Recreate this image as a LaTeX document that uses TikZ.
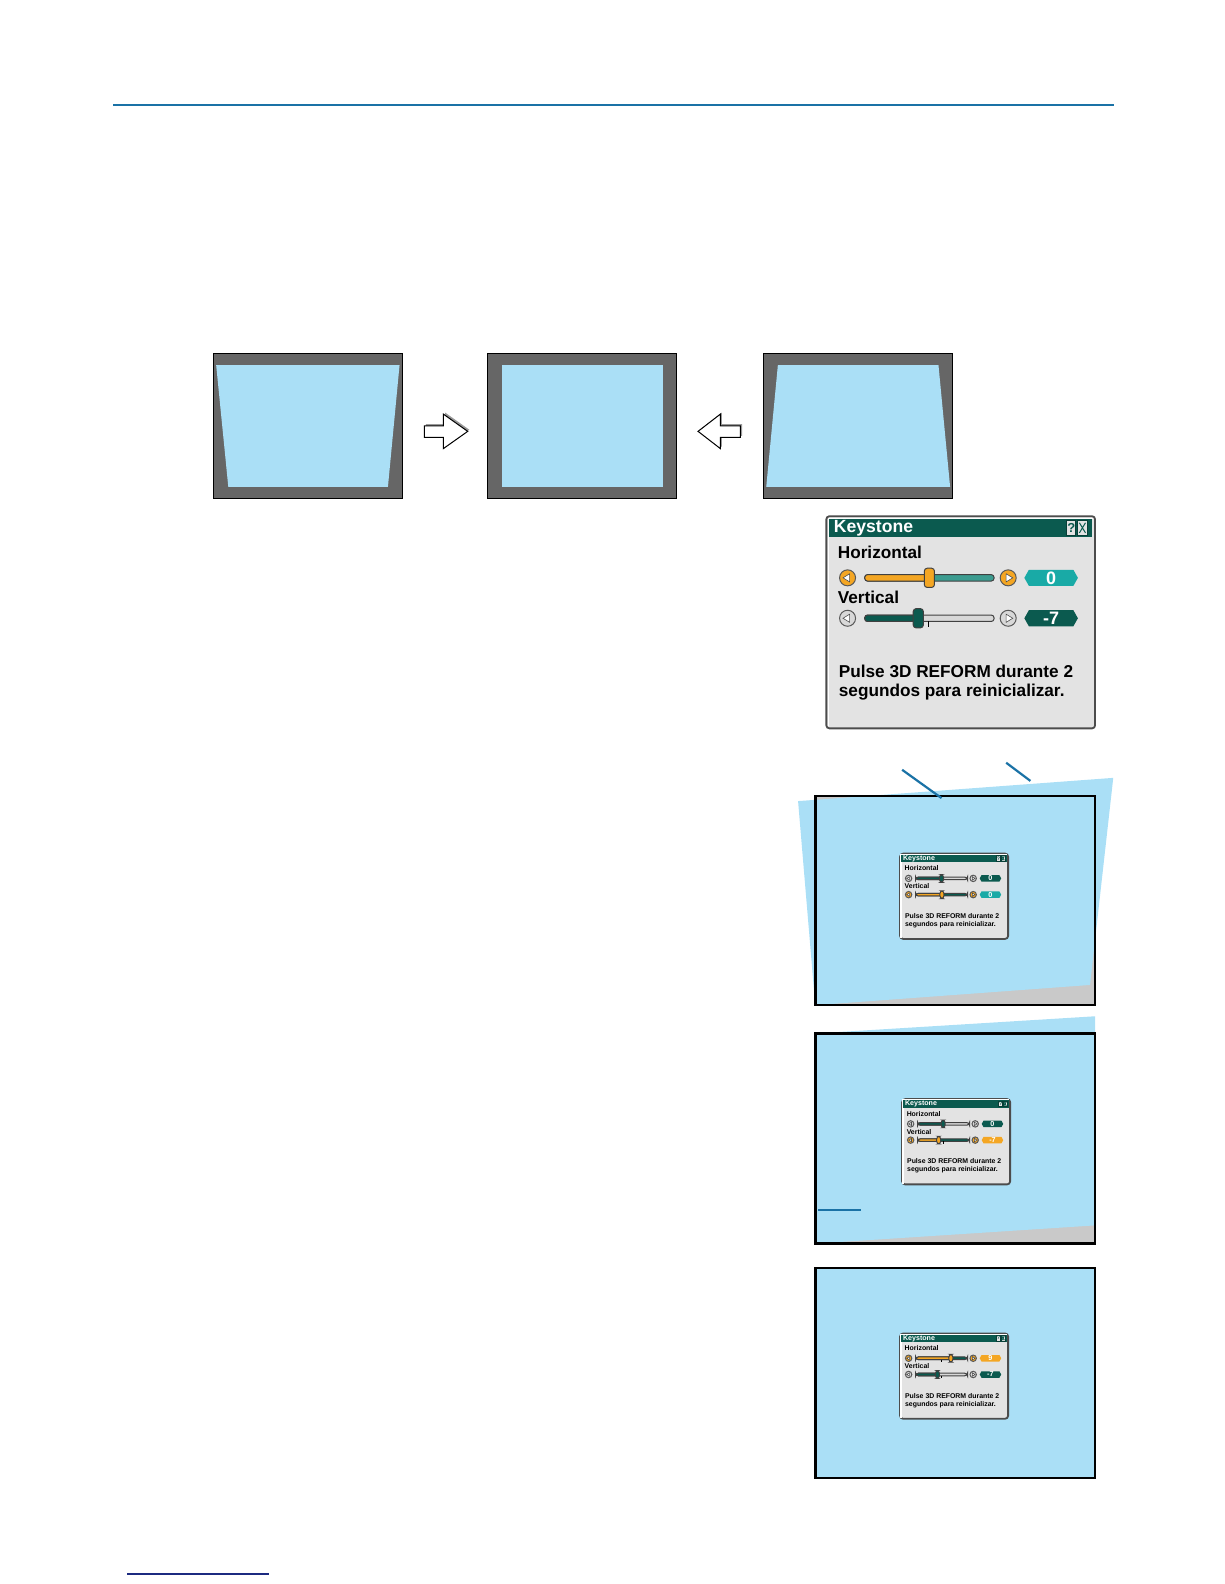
\documentclass[tikz,border=0pt]{standalone}
\usepackage{fontspec}
\setmainfont{Liberation Sans}
\usepackage{tikz}
\usetikzlibrary{calc}

\definecolor{pageblue}{HTML}{1A72A6}
\definecolor{footblue}{HTML}{1C2A80}
\definecolor{scrgray}{HTML}{666666}
\definecolor{skyblue}{HTML}{AADFF6}
\definecolor{wallgray}{HTML}{C9C9C9}
\definecolor{darkteal}{HTML}{0B5A4F}
\definecolor{lightteal}{HTML}{19AAA6}
\definecolor{midteal}{HTML}{3C9C90}
\definecolor{ksorange}{HTML}{F4A623}
\definecolor{dlgbg}{HTML}{E3E3E3}
\definecolor{trackgray}{HTML}{D8D8D8}

% Keystone dialog frame, title and texts (local units, 266 x 210)
\newcommand{\ksdialog}{%
  \draw[dlgframe] (0,0) rectangle (266,210);
  \draw[white, line width=0.6pt] (2,208) -- (2,2) -- (264,2);
  \fill[darkteal] (3,3) rectangle (263,21);
  \node (title) [titletext, anchor=base west] at (7,16.5) {Keystone};
  \draw[iconbox] (238,4.5) rectangle (247,18.5);
  \node (help) [icontext] at (242.5,11.5) {?};
  \draw[iconbox] (248.5,4.5) rectangle (258.5,18.5);
  \draw[darkteal, line width=0.5pt] (250.5,6.5) -- (256.5,16.5) (250.5,16.5) -- (256.5,6.5);
  \node (hlabel) [dlgtext, anchor=base west] at (11,42) {Horizontal};
  \node (vlabel) [dlgtext, anchor=base west] at (11,86) {Vertical};
  \node (msg) [dlgtext, anchor=north west, align=left] at (12,147) {Pulse 3D REFORM durante 2\\segundos para reinicializar.};
}

% one slider row: #1 row y, #2 thumb x, #3 left track, #4 right track,
% #5 buttons, #6 value box, #7 value, #8 value colour, #9 node name
\newcommand{\ksslider}[9]{%
  \draw[btn, fill=#5] (21,#1) circle (4pt);
  \draw[btnarrow] (16.5,#1) -- (23,#1-4) -- (23,#1+4) -- cycle;
  \draw[btn, fill=#5] (180,#1) circle (4pt);
  \draw[btnarrow] (184.5,#1) -- (178,#1-4) -- (178,#1+4) -- cycle;
  \draw[track, fill=#4] (38,#1-3.2) rectangle (166,#1+3.2);
  \draw[track, fill=#3] (38,#1-3.2) rectangle (#2,#1+3.2);
  \draw[line width=0.4pt] (101,#1+3.2) -- (101,#1+9);
  \draw[track, fill=#3] (#2-5,#1-9.5) rectangle (#2+5,#1+9.5);
  \fill[#6] (196,#1) -- (200.5,#1-8) -- (244.5,#1-8) -- (249,#1) -- (244.5,#1+8) -- (200.5,#1+8) -- cycle;
  \node (#9) [valtext, text=#8] at (222.5,#1) {#7};
}

\begin{document}
\begin{tikzpicture}[x=0.505pt, y=-0.505pt]
    % Styles
    \tikzstyle{screen} = [draw=black, line width=0.5pt, fill=scrgray]
    \tikzstyle{picture} = [fill=skyblue]
    \tikzstyle{blockarrow} = [draw=black, line width=0.5pt, fill=white]
    \tikzstyle{shadow} = [fill=black!40]
    \tikzstyle{frame} = [draw=black, line width=1.3pt]
    \tikzstyle{pointer} = [draw=pageblue, line width=1.1pt]
    \tikzstyle{dlgframe} = [draw=black!70, line width=0.9pt, fill=dlgbg, rounded corners=1.5pt]
    \tikzstyle{iconbox} = [draw=darkteal!70!black, line width=0.4pt, fill=dlgbg]
    \tikzstyle{titletext} = [text=white, inner sep=0pt, font=\fontsize{8.8}{10}\selectfont\bfseries]
    \tikzstyle{icontext} = [text=darkteal, inner sep=0pt, font=\fontsize{6.5}{7}\selectfont\bfseries]
    \tikzstyle{dlgtext} = [text=black, inner sep=0pt, font=\fontsize{8.6}{9.6}\selectfont\bfseries]
    \tikzstyle{valtext} = [inner sep=0pt, font=\fontsize{9}{10}\selectfont\bfseries]
    \tikzstyle{btn} = [draw=black!65, line width=0.5pt]
    \tikzstyle{btnarrow} = [draw=black!70, line width=0.3pt, fill=white]
    \tikzstyle{track} = [draw=black!75, line width=0.5pt, rounded corners=1.4pt]

    \useasboundingbox (0,0) rectangle (1212,1568);

    % Page rules
    \draw[draw=pageblue, line width=1.3pt] (112,104) -- (1103,104);
    \draw[draw=footblue, line width=0.6pt] (126,1558) -- (266,1558);

    % Screens before and after
    \draw[screen] (211,350) rectangle (398,493);
    \fill[picture] (214,361.5) -- (395.5,361.5) -- (384,482) -- (226,482) -- cycle;
    \draw[screen] (483,350) rectangle (670,493);
    \fill[picture] (497,361.5) -- (656.5,361.5) -- (656.5,482) -- (497,482) -- cycle;
    \draw[screen] (756,350) rectangle (943,493);
    \fill[picture] (770,361.5) -- (929,361.5) -- (940.5,482) -- (758.5,482) -- cycle;

    % Block arrows
    \fill[shadow] ([shift={(1.6,-1.6)}]420,421.5) -- ++(19,0) -- ++(0,-11.5) -- ++(24,17) -- ++(-24,17) -- ++(0,-11) -- ++(-19,0) -- cycle;
    \draw[blockarrow] (420,421.5) -- (439,421.5) -- (439,410) -- (463,427) -- (439,444) -- (439,433) -- (420,433) -- cycle;
    \fill[shadow] ([shift={(1.6,-1.6)}]733,421.5) -- ++(-20,0) -- ++(0,-11.5) -- ++(-22,17) -- ++(22,17) -- ++(0,-11) -- ++(20,0) -- cycle;
    \draw[blockarrow] (733,421.5) -- (713,421.5) -- (713,410) -- (691,427) -- (713,444) -- (713,433) -- (733,433) -- cycle;

    % Keystone dialog
    \begin{scope}[shift={(818,511)}, name prefix=big-]
        \ksdialog
        \ksslider{61}{102}{ksorange}{midteal}{ksorange}{lightteal}{0}{white}{hval}
        \ksslider{101}{91}{darkteal}{trackgray}{trackgray}{darkteal}{-7}{white}{vval}
    \end{scope}

    % Screen with vertical keystone
    \fill[wallgray] (807,788) rectangle (1084,995);
    \fill[picture] (790,793) -- (1102,770) -- (1079,975) -- (807,995) -- cycle;
    \begin{scope}[shift={(891,845)}, scale=0.402, transform shape, name prefix=sa-]
        \ksdialog
        \ksslider{61}{102}{darkteal}{trackgray}{trackgray}{darkteal}{0}{white}{hval}
        \ksslider{101}{103}{ksorange}{darkteal}{ksorange}{lightteal}{0}{white}{vval}
    \end{scope}
    \draw[frame] (807,788) rectangle (1084,995);
    \draw[pointer] (893,762) -- (932,790);
    \draw[pointer] (996,755) -- (1020,773);

    % Screen after vertical correction
    \fill[wallgray] (807,1023) rectangle (1084,1231);
    \fill[picture] (807,1023) -- (1084,1006) -- (1084,1213) -- (807,1231) -- cycle;
    \begin{scope}[shift={(893,1088)}, scale=0.402, transform shape, name prefix=sb-]
        \ksdialog
        \ksslider{61}{101}{darkteal}{trackgray}{trackgray}{darkteal}{0}{white}{hval}
        \ksslider{101}{90}{ksorange}{darkteal}{ksorange}{ksorange}{-7}{white}{vval}
    \end{scope}
    \draw[frame] (807,1023) rectangle (1084,1231);
    \draw[pointer] (810,1198) -- (852,1198);

    % Screen after horizontal correction
    \fill[picture] (807,1255) rectangle (1084,1463);
    \begin{scope}[shift={(891,1320)}, scale=0.402, transform shape, name prefix=sc-]
        \ksdialog
        \ksslider{61}{125}{ksorange}{darkteal}{ksorange}{ksorange}{9}{white}{hval}
        \ksslider{101}{92}{darkteal}{trackgray}{trackgray}{darkteal}{-7}{white}{vval}
    \end{scope}
    \draw[frame] (807,1255) rectangle (1084,1463);

\end{tikzpicture}
\end{document}
